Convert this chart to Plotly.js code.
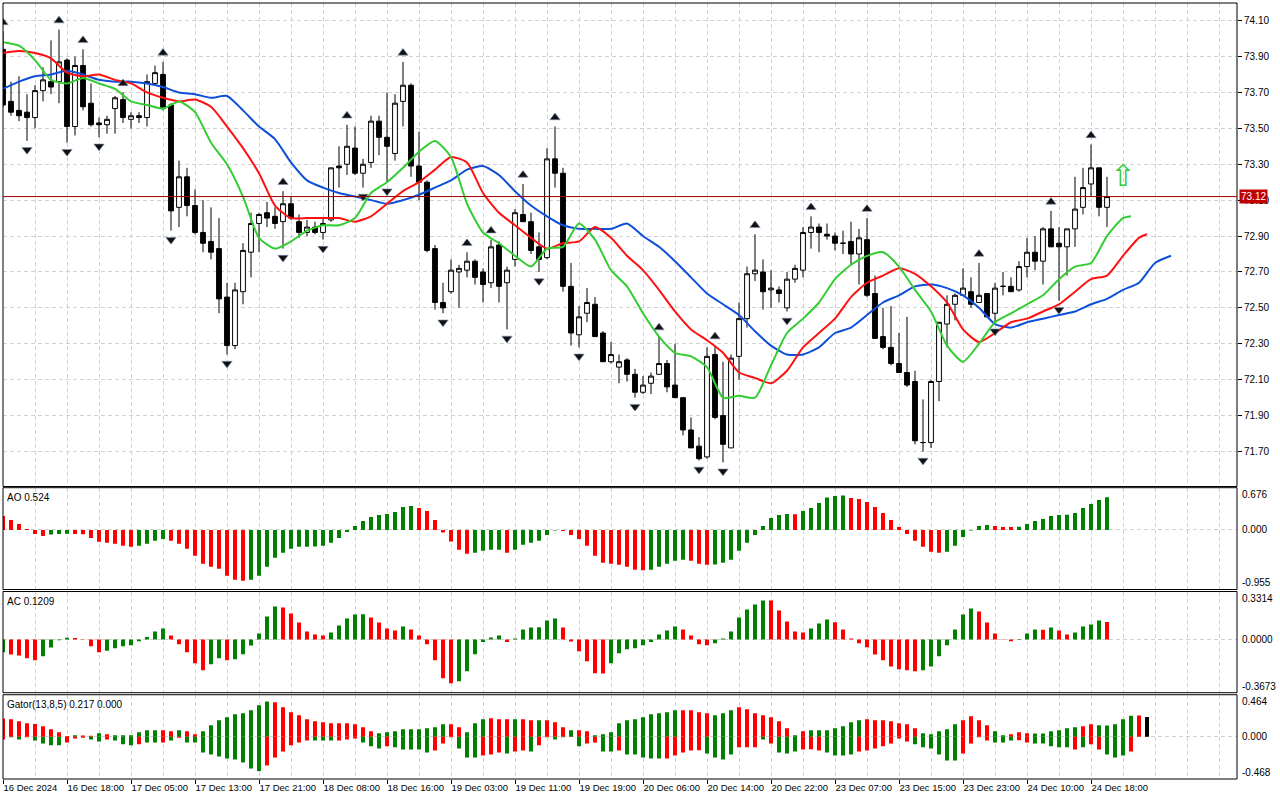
<!DOCTYPE html>
<html><head><meta charset="utf-8">
<script src="https://cdn.plot.ly/plotly-3.0.1.min.js"></script>
<style>html,body{margin:0;padding:0;background:#fff;}#chart{width:1280px;height:800px;}</style>
</head><body><div id="chart"></div>
<script>
// ---- candles (H1) ----
const opens = [73.94,73.65,73.60,73.59,73.56,73.71,73.76,73.76,73.88,73.51,
73.85,73.64,73.53,73.52,73.61,73.66,73.55,73.57,73.56,73.75,
73.80,73.63,73.06,73.23,73.07,72.92,72.87,72.83,72.56,72.29,
72.59,72.81,72.97,73.03,73.01,72.98,73.08,72.98,72.92,72.95,
72.92,72.99,73.29,73.30,73.39,73.25,73.31,73.54,73.45,73.36,
73.65,73.74,73.29,73.20,72.83,72.53,72.59,72.70,72.71,72.76,
72.70,72.64,72.85,72.64,72.77,73.02,72.98,72.84,72.78,73.33,
73.25,72.62,72.35,72.47,72.52,72.36,72.20,72.17,72.21,72.13,
72.03,72.08,72.13,72.19,72.07,72.00,71.82,71.73,71.67,72.24,
71.90,71.72,72.23,72.44,72.69,72.70,72.60,72.60,72.50,72.66,
72.71,72.92,72.95,72.91,72.90,72.86,72.87,72.80,72.88,72.58,
72.34,72.28,72.19,72.14,72.09,71.75,71.75,72.09,72.41,72.52,
72.57,72.59,72.53,72.58,72.47,72.62,72.62,72.60,72.73,72.81,
72.76,72.94,72.86,72.84,72.94,73.06,73.19,73.28,73.06];
const highs = [74.04,73.76,73.79,73.69,73.74,73.84,73.99,74.05,73.89,73.90,
73.94,73.75,73.56,73.57,73.68,73.70,73.59,73.59,73.80,73.85,
73.87,73.64,73.32,73.28,73.16,73.10,73.06,73.00,72.64,72.64,
72.86,73.03,73.03,73.09,73.06,73.15,73.12,73.02,72.99,72.98,
73.00,73.28,73.40,73.52,73.51,73.33,73.57,73.57,73.70,73.69,
73.87,73.75,73.48,73.21,72.85,72.64,72.77,72.74,72.81,72.77,
72.72,72.88,72.87,72.73,73.05,73.19,73.03,72.92,73.39,73.51,
73.28,72.75,72.51,72.61,72.56,72.37,72.31,72.24,72.22,72.16,
72.12,72.14,72.34,72.21,72.30,72.00,71.89,71.78,72.28,72.29,
72.20,72.24,72.53,72.73,72.91,72.77,72.71,72.62,72.70,72.74,
72.95,73.01,72.97,72.97,72.92,72.93,72.98,72.94,73.00,72.68,
72.50,72.51,72.36,72.45,72.15,71.99,72.10,72.42,72.57,72.58,
72.72,72.67,72.75,72.58,72.64,72.70,72.67,72.76,72.89,72.90,
72.95,73.04,72.95,72.94,73.23,73.28,73.41,73.28,73.23];
const lows = [73.62,73.57,73.54,73.43,73.50,73.65,73.69,73.64,73.42,73.46,
73.60,73.51,73.45,73.47,73.47,73.53,73.50,73.53,73.51,73.74,
73.60,72.93,72.95,73.01,72.91,72.81,72.77,72.47,72.24,72.27,
72.52,72.67,72.81,72.95,72.94,72.83,72.99,72.89,72.90,72.91,
72.88,72.98,73.17,73.24,73.24,73.17,73.28,73.35,73.20,73.32,
73.51,73.23,73.10,72.81,72.49,72.47,72.58,72.50,72.67,72.63,
72.53,72.61,72.53,72.38,72.73,72.98,72.80,72.70,72.77,73.17,
72.59,72.29,72.28,72.42,72.34,72.20,72.19,72.08,72.09,72.00,
72.02,72.02,72.13,72.03,72.00,71.79,71.72,71.65,71.66,71.88,
71.64,71.72,72.10,72.39,72.65,72.49,72.50,72.53,72.48,72.64,
72.67,72.83,72.81,72.88,72.82,72.80,72.74,72.63,72.56,72.33,
72.27,72.18,72.14,72.06,71.74,71.70,71.72,71.98,72.28,72.43,
72.57,72.50,72.53,72.45,72.42,72.57,72.59,72.59,72.67,72.71,
72.63,72.84,72.54,72.68,72.84,73.02,73.12,73.01,72.95];
const closes = [73.63,73.59,73.57,73.56,73.71,73.77,73.73,73.87,73.51,73.85,
73.62,73.52,73.52,73.55,73.67,73.56,73.57,73.56,73.76,73.81,
73.61,73.04,73.23,73.07,72.92,72.86,72.81,72.55,72.29,72.60,
72.82,72.97,73.02,73.00,72.97,73.08,73.00,72.92,72.95,72.92,
72.97,73.28,73.28,73.40,73.25,73.30,73.54,73.45,73.40,73.64,
73.74,73.29,73.20,72.82,72.53,72.50,72.71,72.72,72.76,72.67,
72.63,72.84,72.62,72.71,73.03,72.98,72.82,72.77,73.33,73.25,
72.62,72.36,72.45,72.53,72.34,72.20,72.24,72.20,72.13,72.03,
72.07,72.12,72.19,72.06,72.00,71.82,71.72,71.66,72.23,71.89,
71.74,72.22,72.44,72.69,72.71,72.59,72.61,72.58,72.66,72.72,
72.92,72.95,72.92,72.90,72.86,72.86,72.80,72.89,72.57,72.33,
72.28,72.19,72.14,72.07,71.76,71.75,72.09,72.42,72.52,72.57,
72.61,72.52,72.57,72.45,72.61,72.62,72.59,72.73,72.81,72.76,
72.94,72.84,72.84,72.94,73.05,73.17,73.28,73.06,73.12];

// ---- time axis labels (bar index -> label) ----
const tickBars = [0,8,16,24,32,40,48,56,64,72,80,88,96,104,112,120,128,136];
const tickLabels = ['16 Dec 2024','16 Dec 18:00','17 Dec 05:00','17 Dec 13:00','17 Dec 21:00','18 Dec 08:00',
'18 Dec 16:00','19 Dec 03:00','19 Dec 11:00','19 Dec 19:00','20 Dec 06:00','20 Dec 14:00','20 Dec 22:00',
'23 Dec 07:00','23 Dec 15:00','23 Dec 23:00','24 Dec 10:00','24 Dec 18:00'];
const priceTicks = [71.70,71.90,72.10,72.30,72.50,72.70,72.90,73.10,73.30,73.50,73.70,73.90,74.10];

// ---- fractals ----
const fractalUpBars = [0,7,10,15,20,35,43,50,58,61,65,69,82,89,94,101,108,122,131,136];
const fractalDownBars = [3,8,12,21,28,35,40,45,48,55,63,67,72,79,87,90,98,115,124,132];

// ---- alligator (jaw blue, teeth red, lips green) ----
const jawBars = [0,2,4,6,8,10,12,14,16,18,20,22,24,26,28,30,32,34,36,38,40,42,44,46,48,50,52,54,56,58,60,62,64,66,68,70,72,74,76,78,80,82,84,86,88,90,92,94,96,98,100,102,104,106,108,110,112,114,116,118,120,122,124,126,128,130,132,134,136,138,140,142,144,146];
const jawValues = [73.72,73.76,73.79,73.80,73.82,73.80,73.77,73.76,73.76,73.75,73.73,73.70,73.69,73.67,73.68,73.60,73.51,73.44,73.31,73.21,73.17,73.14,73.12,73.10,73.08,73.10,73.13,73.17,73.21,73.27,73.29,73.24,73.15,73.07,73.01,72.96,72.94,72.94,72.94,72.97,72.90,72.84,72.76,72.67,72.58,72.52,72.46,72.37,72.29,72.24,72.24,72.28,72.36,72.39,72.46,72.53,72.57,72.62,72.63,72.61,72.57,72.50,72.41,72.39,72.42,72.44,72.46,72.48,72.52,72.55,72.60,72.64,72.75,72.79];
const teethBars = [0,2,4,6,8,10,12,14,16,18,20,22,24,26,28,30,32,34,36,38,40,42,44,46,48,50,52,54,56,58,60,62,64,66,68,70,72,74,76,78,80,82,84,86,88,90,92,94,96,98,100,102,104,106,108,110,112,114,116,118,120,122,124,126,128,130,132,134,136,138,140,142,143];
const teethValues = [73.92,73.93,73.92,73.89,73.81,73.79,73.80,73.77,73.75,73.70,73.67,73.65,73.66,73.62,73.51,73.39,73.25,73.07,73.00,73.00,73.00,73.00,72.98,73.01,73.08,73.15,73.20,73.27,73.34,73.31,73.14,73.03,72.96,72.89,72.83,72.86,72.87,72.95,72.89,72.79,72.71,72.60,72.48,72.38,72.32,72.25,72.14,72.11,72.08,72.15,72.28,72.36,72.44,72.56,72.64,72.68,72.72,72.69,72.62,72.53,72.38,72.31,72.36,72.42,72.44,72.48,72.52,72.59,72.66,72.68,72.79,72.89,72.91];
const lipsBars = [0,2,4,6,8,10,12,14,16,18,20,22,24,26,28,30,32,34,36,38,40,42,44,46,48,50,52,54,56,58,60,62,64,66,68,70,72,74,76,78,80,82,84,86,88,90,92,94,96,98,100,102,104,106,108,110,112,114,116,118,120,122,124,126,128,130,132,134,136,138,140,141];
const lipsValues = [73.98,73.96,73.88,73.77,73.75,73.78,73.75,73.72,73.65,73.63,73.61,73.65,73.59,73.42,73.30,73.12,72.89,72.83,72.87,72.93,72.96,72.96,73.00,73.14,73.20,73.28,73.37,73.43,73.34,73.08,72.92,72.86,72.79,72.73,72.83,72.84,72.97,72.88,72.71,72.62,72.47,72.34,72.25,72.23,72.17,72.00,72.01,72.00,72.18,72.36,72.44,72.53,72.66,72.74,72.79,72.81,72.73,72.60,72.48,72.29,72.20,72.30,72.42,72.47,72.52,72.57,72.66,72.73,72.75,72.90,73.00,73.01];

// ---- buy signal arrow ----
const signalBars = [140];
const signalPrices = [73.22];

// ---- Awesome Oscillator ----
const aoValues = [0.224,0.160,0.096,0.016,-0.064,-0.096,-0.075,-0.064,-0.062,-0.066,
-0.068,-0.128,-0.192,-0.208,-0.224,-0.256,-0.272,-0.256,-0.224,-0.176,
-0.144,-0.176,-0.224,-0.304,-0.416,-0.544,-0.592,-0.624,-0.736,-0.800,
-0.816,-0.800,-0.736,-0.592,-0.448,-0.368,-0.304,-0.272,-0.270,-0.268,
-0.256,-0.208,-0.128,-0.032,0.064,0.144,0.208,0.240,0.256,0.288,
0.368,0.384,0.352,0.304,0.160,-0.043,-0.187,-0.320,-0.384,-0.368,
-0.336,-0.320,-0.318,-0.368,-0.320,-0.240,-0.208,-0.176,-0.080,-0.011,
-0.016,-0.080,-0.144,-0.256,-0.416,-0.528,-0.544,-0.560,-0.592,-0.640,
-0.645,-0.640,-0.592,-0.544,-0.496,-0.480,-0.496,-0.544,-0.560,-0.555,
-0.528,-0.480,-0.336,-0.208,-0.080,0.064,0.192,0.240,0.256,0.250,
0.304,0.352,0.432,0.517,0.544,0.549,0.512,0.496,0.448,0.368,
0.272,0.160,0.048,-0.064,-0.176,-0.272,-0.352,-0.368,-0.352,-0.256,
-0.112,-0.011,0.064,0.080,0.064,0.048,0.045,0.050,0.096,0.144,
0.176,0.224,0.240,0.242,0.272,0.352,0.416,0.480,0.524];
const aoFirstUp = false;
const aoScale = [-0.955, 0.676];

// ---- Accelerator Oscillator ----
const acValues = [-0.088,-0.104,-0.111,-0.129,-0.143,-0.115,-0.055,-0.005,0.012,0.011,
-0.002,-0.046,-0.088,-0.078,-0.060,-0.046,-0.039,-0.012,0.018,0.055,
0.076,0.028,-0.032,-0.088,-0.164,-0.212,-0.171,-0.129,-0.143,-0.136,
-0.102,-0.042,0.042,0.159,0.228,0.221,0.180,0.118,0.055,0.035,
0.028,0.048,0.097,0.145,0.173,0.174,0.152,0.118,0.076,0.062,
0.090,0.069,0.028,-0.032,-0.143,-0.268,-0.302,-0.288,-0.219,-0.102,
-0.018,0.014,0.028,-0.018,0.007,0.069,0.083,0.084,0.131,0.145,
0.083,-0.014,-0.081,-0.150,-0.233,-0.234,-0.164,-0.095,-0.067,-0.060,
-0.039,-0.018,0.035,0.062,0.090,0.069,0.028,-0.032,-0.039,-0.025,
0.007,0.055,0.152,0.208,0.242,0.270,0.269,0.201,0.125,0.055,
0.048,0.076,0.111,0.138,0.120,0.069,0.007,-0.025,-0.053,-0.104,
-0.143,-0.187,-0.205,-0.212,-0.219,-0.212,-0.187,-0.115,-0.039,0.069,
0.173,0.215,0.194,0.118,0.042,0.002,-0.012,-0.003,0.042,0.069,
0.068,0.083,0.062,0.035,0.048,0.090,0.104,0.131,0.1209];
const acFirstUp = true;
const acScale = [-0.3673, 0.3314];

// ---- Gator Oscillator ----
const gatorUpper = [0.200,0.192,0.170,0.148,0.141,0.115,0.081,0.048,0.007,0.015,
0.014,0.011,0.037,0.026,0.015,0.015,0.016,0.048,0.070,0.070,
0.070,0.059,0.070,0.059,0.026,0.059,0.126,0.181,0.215,0.248,
0.259,0.292,0.348,0.389,0.381,0.326,0.270,0.237,0.192,0.170,
0.159,0.148,0.148,0.148,0.137,0.104,0.059,0.037,0.048,0.059,
0.081,0.081,0.081,0.093,0.104,0.137,0.137,0.104,0.048,0.148,
0.192,0.204,0.192,0.192,0.192,0.193,0.181,0.181,0.182,0.159,
0.104,0.070,0.071,0.059,0.015,0.026,0.048,0.148,0.181,0.192,
0.215,0.248,0.259,0.270,0.292,0.293,0.292,0.270,0.259,0.237,
0.259,0.292,0.326,0.303,0.259,0.237,0.215,0.170,0.093,0.015,
0.059,0.070,0.070,0.070,0.093,0.115,0.159,0.181,0.192,0.181,
0.181,0.170,0.148,0.137,0.093,0.037,0.026,0.059,0.081,0.137,
0.181,0.226,0.181,0.126,0.059,0.015,0.026,0.048,0.037,0.036,
0.035,0.059,0.070,0.093,0.104,0.115,0.137,0.126,0.125,0.137,
0.192,0.232,0.233,0.217];
const gatorUpperDir = "rrrrrrrrrgrrgrggggggrrgrrgggggggggrrrrrrrrrrrrrgggggggggrrgggrrrgrrgrrrgrrgggggggggggrrrrgggrrrrrrrgrgggggggrrrrrrrgggggrrrrggrrrggggggrrgggggr";
const gatorLower = [-0.030,-0.007,-0.030,-0.007,-0.041,-0.074,-0.096,-0.096,-0.063,-0.019,
-0.011,-0.030,-0.052,-0.030,-0.041,-0.085,-0.096,-0.085,-0.063,-0.063,
-0.063,-0.041,-0.011,-0.063,-0.063,-0.174,-0.196,-0.218,-0.241,-0.252,
-0.285,-0.352,-0.381,-0.318,-0.229,-0.163,-0.096,-0.063,-0.041,-0.041,
-0.041,-0.041,-0.041,-0.030,-0.019,-0.063,-0.107,-0.130,-0.107,-0.118,
-0.141,-0.141,-0.141,-0.174,-0.152,-0.074,-0.007,-0.130,-0.229,-0.230,
-0.207,-0.196,-0.174,-0.185,-0.163,-0.152,-0.163,-0.096,-0.007,-0.030,
-0.007,-0.004,-0.107,-0.074,-0.063,-0.163,-0.164,-0.152,-0.196,-0.197,
-0.229,-0.241,-0.242,-0.241,-0.207,-0.174,-0.152,-0.151,-0.185,-0.229,
-0.252,-0.196,-0.118,-0.117,-0.118,-0.030,-0.074,-0.174,-0.185,-0.163,
-0.141,-0.140,-0.152,-0.174,-0.207,-0.208,-0.196,-0.163,-0.152,-0.130,
-0.107,-0.074,-0.019,-0.052,-0.085,-0.118,-0.130,-0.196,-0.263,-0.262,
-0.185,-0.074,-0.005,-0.041,-0.063,-0.063,-0.041,-0.040,-0.063,-0.074,
-0.075,-0.107,-0.118,-0.117,-0.141,-0.118,-0.085,-0.141,-0.196,-0.229,
-0.207,-0.163];
const gatorLowerDir = "rggrggggrrrggrgggrggrgrggggggggggrrrrrrgggrrrgggrgggggrrrgggrrrgrrgrrggrgrrggrgggggrrrrrggggrrrgrgggrrrggggrrrrrrrggggggrrrrgggrrgggggrgrrgggrr";
const gatorScale = [-0.468, 0.464];
const gatorLabel = 'Gator(13,8,5)';

// ================= drawing =================
const GREEN = '#008000', RED = '#ff0000';
const FONT = 'Liberation Sans Narrow, Arial Narrow, Liberation Sans, Arial, sans-serif';
const FS = 10;
const GRID = '#d2d2d2';
const idx = opens.map((_, i) => i);
const last = closes.length - 1;
const FRACTAL_GAP = 0.05;

function dirColors(vals, firstUp) {
  return vals.map((v, i) => (i === 0 ? firstUp : v > vals[i - 1]) ? GREEN : RED);
}
function flagColors(str) { return str.split('').map(c => c === 'g' ? GREEN : RED); }

const traces = [
  {type: 'candlestick', x: idx, open: opens, high: highs, low: lows, close: closes,
   xaxis: 'x', yaxis: 'y', whiskerwidth: 0, hoverinfo: 'skip',
   increasing: {line: {color: '#000', width: 1}, fillcolor: '#fff'},
   decreasing: {line: {color: '#000', width: 1}, fillcolor: '#000'}},
  {type: 'scatter', mode: 'lines', x: jawBars, y: jawValues, xaxis: 'x', yaxis: 'y',
   line: {color: '#0d4fd9', width: 2, shape: 'spline', smoothing: 0.6}, hoverinfo: 'skip'},
  {type: 'scatter', mode: 'lines', x: teethBars, y: teethValues, xaxis: 'x', yaxis: 'y',
   line: {color: '#ff1010', width: 2, shape: 'spline', smoothing: 0.6}, hoverinfo: 'skip'},
  {type: 'scatter', mode: 'lines', x: lipsBars, y: lipsValues, xaxis: 'x', yaxis: 'y',
   line: {color: '#33cc33', width: 2, shape: 'spline', smoothing: 0.6}, hoverinfo: 'skip'},
  {type: 'scatter', mode: 'markers', x: fractalUpBars, y: fractalUpBars.map(i => highs[i] + FRACTAL_GAP),
   xaxis: 'x', yaxis: 'y', marker: {symbol: 'triangle-up', size: 9, color: '#111', line: {color: '#7f95b8', width: 0.6}}, hoverinfo: 'skip'},
  {type: 'scatter', mode: 'markers', x: fractalDownBars, y: fractalDownBars.map(i => lows[i] - FRACTAL_GAP),
   xaxis: 'x', yaxis: 'y', marker: {symbol: 'triangle-down', size: 9, color: '#111', line: {color: '#7f95b8', width: 0.6}}, hoverinfo: 'skip'},
  {type: 'scatter', mode: 'text', x: signalBars, y: signalPrices, text: signalBars.map(() => '\u21E7'),
   textfont: {family: 'DejaVu Sans', size: 30, color: '#33cc33'}, xaxis: 'x', yaxis: 'y', hoverinfo: 'skip', cliponaxis: false},
  {type: 'bar', x: idx, y: aoValues, width: 0.5, xaxis: 'x', yaxis: 'y2',
   marker: {color: dirColors(aoValues, aoFirstUp), line: {width: 0}}, hoverinfo: 'skip'},
  {type: 'bar', x: idx, y: acValues, width: 0.5, xaxis: 'x', yaxis: 'y3',
   marker: {color: dirColors(acValues, acFirstUp), line: {width: 0}}, hoverinfo: 'skip'},
  {type: 'bar', x: gatorUpper.map((_, i) => i), y: gatorUpper, width: 0.5, xaxis: 'x', yaxis: 'y4',
   marker: {color: flagColors(gatorUpperDir), line: {width: 0}}, hoverinfo: 'skip'},
  {type: 'bar', x: gatorLower.map((_, i) => i), y: gatorLower, width: 0.5, xaxis: 'x', yaxis: 'y4',
   marker: {color: flagColors(gatorLowerDir), line: {width: 0}}, hoverinfo: 'skip'}
];

const D_MAIN = [0.3769, 1], D_AO = [0.2442, 0.3754], D_AC = [0.1112, 0.2416], D_GT = [0, 0.1086];
const subAxis = (dom, rng) => ({domain: dom, range: rng, side: 'right', anchor: 'x', fixedrange: true,
  tickvals: [rng[1], 0, rng[0]], showticklabels: false, ticks: '', showgrid: true,
  gridcolor: GRID, griddash: '4px,3px', gridwidth: 1, zeroline: false, showline: false});

const layout = {
  width: 1280, height: 800, margin: {l: 3, r: 43, t: 3, b: 21},
  paper_bgcolor: '#fff', plot_bgcolor: '#fff', showlegend: false,
  barmode: 'overlay', boxgap: 0.4, boxgroupgap: 0,
  font: {family: FONT, size: FS, color: '#000'},
  xaxis: {anchor: 'y4', range: [0, 154.25], fixedrange: true, rangeslider: {visible: false},
    tickmode: 'array', tickvals: tickBars, ticktext: tickLabels, ticks: 'outside', ticklen: 4,
    tickangle: 0, automargin: false,
    tickcolor: '#000', ticklabelposition: 'outside right', tickfont: {family: FONT, size: 9.5, color: '#000'},
    showgrid: true, gridcolor: GRID, griddash: '4px,3px', zeroline: false, showline: false,
    minor: {tickmode: 'linear', tick0: 0, dtick: 4, showgrid: true, gridcolor: GRID, griddash: '4px,3px', ticks: ''}},
  yaxis: {domain: D_MAIN, range: [71.505, 74.198], side: 'right', anchor: 'x', fixedrange: true,
    tickmode: 'array', tickvals: priceTicks, ticktext: priceTicks.map(v => v.toFixed(2)),
    ticks: 'outside', ticklen: 4, tickcolor: '#000', tickfont: {family: FONT, size: FS, color: '#000'},
    showgrid: true, gridcolor: GRID, griddash: '4px,3px', zeroline: false, showline: false},
  yaxis2: subAxis(D_AO, aoScale),
  yaxis3: subAxis(D_AC, acScale),
  yaxis4: subAxis(D_GT, gatorScale),
  shapes: [
    ...[D_MAIN, D_AO, D_AC, D_GT].map(d => ({type: 'rect', xref: 'paper', yref: 'paper', x0: 0, x1: 1,
      y0: d[0], y1: d[1], line: {color: '#000', width: 1}, fillcolor: 'rgba(0,0,0,0)', layer: 'above'})),
    {type: 'line', xref: 'paper', x0: 0, x1: 1, yref: 'y', y0: closes[last], y1: closes[last],
     line: {color: '#a00000', width: 1}, layer: 'above'}
  ],
  annotations: []
};

const ann = layout.annotations;
const txt = (s, x, y, yref, xanchor, yanchor, extra) => ann.push(Object.assign({text: s, x: x, y: y,
  xref: 'paper', yref: yref, xanchor: xanchor, yanchor: yanchor, showarrow: false,
  font: {family: FONT, size: FS, color: '#000'}, borderpad: 0}, extra || {}));

txt('AO ' + aoValues[last].toFixed(3), 0.0025, 0.3634, 'paper', 'left', 'middle');
txt('AC ' + acValues[last].toFixed(4), 0.0025, 0.2285, 'paper', 'left', 'middle');
txt(gatorLabel + ' ' + gatorUpper[gatorUpper.length - 1].toFixed(3) + ' ' +
    Math.abs(gatorLower[gatorUpper.length - 1] || 0).toFixed(3), 0.0025, 0.0963, 'paper', 'left', 'middle');

[['y2', aoScale, 3], ['y3', acScale, 4], ['y4', gatorScale, 3]].forEach(([yr, sc, dp]) => {
  txt(sc[1].toFixed(dp), 1, sc[1], yr, 'left', 'top', {xshift: 4});
  txt((0).toFixed(dp), 1, 0, yr, 'left', 'middle', {xshift: 4});
  txt(sc[0].toFixed(dp), 1, sc[0], yr, 'left', 'bottom', {xshift: 4});
});

txt(closes[last].toFixed(2), 1, closes[last], 'y', 'left', 'middle',
  {xshift: 2, bgcolor: '#c00000', borderpad: 1, font: {family: FONT, size: FS, color: '#fff'}});

Plotly.newPlot('chart', traces, layout, {staticPlot: true, displayModeBar: false});
</script>
</body></html>
